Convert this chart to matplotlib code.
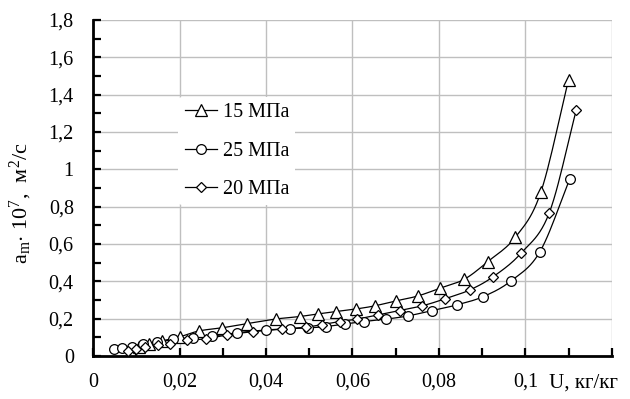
import numpy as np
import matplotlib
matplotlib.use("Agg")
import matplotlib.pyplot as plt
from matplotlib.ticker import MultipleLocator, FixedLocator, FuncFormatter
import matplotlib.transforms as mtransforms

plt.rcParams['font.family'] = ['Liberation Serif', 'DejaVu Serif']
plt.rcParams['mathtext.fontset'] = 'custom'
plt.rcParams['mathtext.rm'] = 'Liberation Serif'
plt.rcParams['mathtext.it'] = 'Liberation Serif:italic'

# ---- data ----
u_15 = [0.0105, 0.0130, 0.0159, 0.0200, 0.0245, 0.0297, 0.0356, 0.0424, 0.0478, 0.0520,
        0.0561, 0.0607, 0.0651, 0.0701, 0.0751, 0.0803, 0.0859, 0.0913, 0.0977, 0.1036, 0.1100]
a_15 = [0.050, 0.062, 0.080, 0.102, 0.134, 0.150, 0.173, 0.198, 0.211, 0.225,
        0.237, 0.251, 0.268, 0.295, 0.321, 0.363, 0.411, 0.505, 0.636, 0.878, 1.478]

u_25 = [0.0047, 0.0066, 0.0090, 0.0116, 0.0147, 0.0185, 0.0232, 0.0274, 0.0332, 0.0400,
        0.0455, 0.0497, 0.0538, 0.0582, 0.0626, 0.0677, 0.0728, 0.0784, 0.0841, 0.0903,
        0.0967, 0.1034, 0.1103]
a_25 = [0.036, 0.040, 0.050, 0.062, 0.072, 0.088, 0.098, 0.106, 0.124, 0.139,
        0.146, 0.150, 0.157, 0.171, 0.184, 0.197, 0.214, 0.243, 0.273, 0.318,
        0.402, 0.559, 0.948]

u_20 = [0.0081, 0.0100, 0.0120, 0.0150, 0.0177, 0.0216, 0.0262, 0.0309, 0.0370, 0.0436,
        0.0492, 0.0530, 0.0570, 0.0610, 0.0659, 0.0709, 0.0761, 0.0813, 0.0871, 0.0926,
        0.0990, 0.1055, 0.1118]
a_20 = [0.027, 0.035, 0.047, 0.058, 0.066, 0.083, 0.092, 0.112, 0.130, 0.143,
        0.154, 0.168, 0.184, 0.197, 0.220, 0.243, 0.268, 0.305, 0.353, 0.425,
        0.550, 0.764, 1.318]

series_labels = ['15 МПа', '25 МПа', '20 МПа']
x_ticks = [0, 0.02, 0.04, 0.06, 0.08, 0.1, 0.12]
y_ticks = [0, 0.2, 0.4, 0.6, 0.8, 1.0, 1.2, 1.4, 1.6, 1.8]


def smooth(x, y, n=12):
    """Catmull-Rom curve through the points (for drawing the smoothed line only)."""
    x = np.asarray(x, float); y = np.asarray(y, float)
    P = np.column_stack([x, y])
    P = np.vstack([P[0] - (P[1] - P[0]), P, P[-1] + (P[-1] - P[-2])])
    out = []
    t = np.linspace(0, 1, n, endpoint=False)[:, None]
    for i in range(1, len(P) - 2):
        p0, p1, p2, p3 = P[i - 1], P[i], P[i + 1], P[i + 2]
        seg = 0.5 * ((2 * p1) + (-p0 + p2) * t + (2 * p0 - 5 * p1 + 4 * p2 - p3) * t ** 2
                     + (-p0 + 3 * p1 - 3 * p2 + p3) * t ** 3)
        out.append(seg)
    out.append(P[-2][None, :])
    out = np.vstack(out)
    return out[:, 0], out[:, 1]


fig = plt.figure(figsize=(6.30, 3.99), dpi=100)
ax = fig.add_axes([0.148, 0.108, 0.823, 0.842])

styles = [('^', 8.0), ('o', 7.0), ('D', 5.2)]
data = [(u_15, a_15), (u_25, a_25), (u_20, a_20)]
handles = []
for (xs, ys), (mk, ms), lab in zip(data, styles, series_labels):
    sx, sy = smooth(xs, ys)
    ax.plot(sx, sy, color='black', lw=0.9, zorder=3)
    ax.plot(xs, ys, ls='none', marker=mk, ms=ms, mfc='white', mec='black', mew=0.9, zorder=4)
    h, = ax.plot([], [], color='black', lw=0.9, marker=mk, ms=ms, mfc='white', mec='black', mew=0.9, label=lab)
    handles.append(h)

ax.set_xlim(0, 0.12)
ax.set_ylim(0, 1.8)
ax.xaxis.set_major_locator(FixedLocator(x_ticks))
ax.yaxis.set_major_locator(FixedLocator(y_ticks))
ax.xaxis.set_minor_locator(MultipleLocator(0.01))
ax.yaxis.set_minor_locator(MultipleLocator(0.1))


def fmt(v, pos, last=None):
    if last is not None and abs(v - last) < 1e-9:
        return ''
    s = ('%.2f' % v).rstrip('0').rstrip('.')
    return s.replace('.', ',')


ax.xaxis.set_major_formatter(FuncFormatter(lambda v, p: fmt(v, p, last=0.12)))
ax.yaxis.set_major_formatter(FuncFormatter(lambda v, p: fmt(v, p)))

ax.grid(True, which='major', color='#bfbfbf', lw=1.0, zorder=0)
ax.set_axisbelow(True)
for side in ['top', 'right']:
    ax.spines[side].set_visible(False)
for side in ['left', 'bottom']:
    ax.spines[side].set_linewidth(2.0)
    ax.spines[side].set_color('black')
ax.tick_params(which='both', direction='in', width=1.6, color='black', labelsize=14.5)
ax.tick_params(which='major', length=6, pad=12)
ax.tick_params(which='minor', length=6)
ax.tick_params(axis='y', pad=14)

trans = mtransforms.blended_transform_factory(ax.transData, ax.transAxes)
ax.text(0.1135, -0.053, 'U, кг/кг', transform=trans, ha='center', va='top', fontsize=15)

fig.text(0.033, 0.49, r'a$_\mathrm{m}$$\cdot$ 10$^7$,  м$^2$/с', rotation=90,
         ha='center', va='center', fontsize=16)

leg = ax.legend(handles=handles, loc='upper left', bbox_to_anchor=(0.145, 0.80),
                frameon=True, fontsize=14.5, handlelength=1.6, handletextpad=0.3,
                labelspacing=0.95, borderpad=0.3, facecolor='white', edgecolor='none',
                framealpha=1.0)
leg.get_frame().set_linewidth(0)

fig.savefig('out.png', dpi=100)
